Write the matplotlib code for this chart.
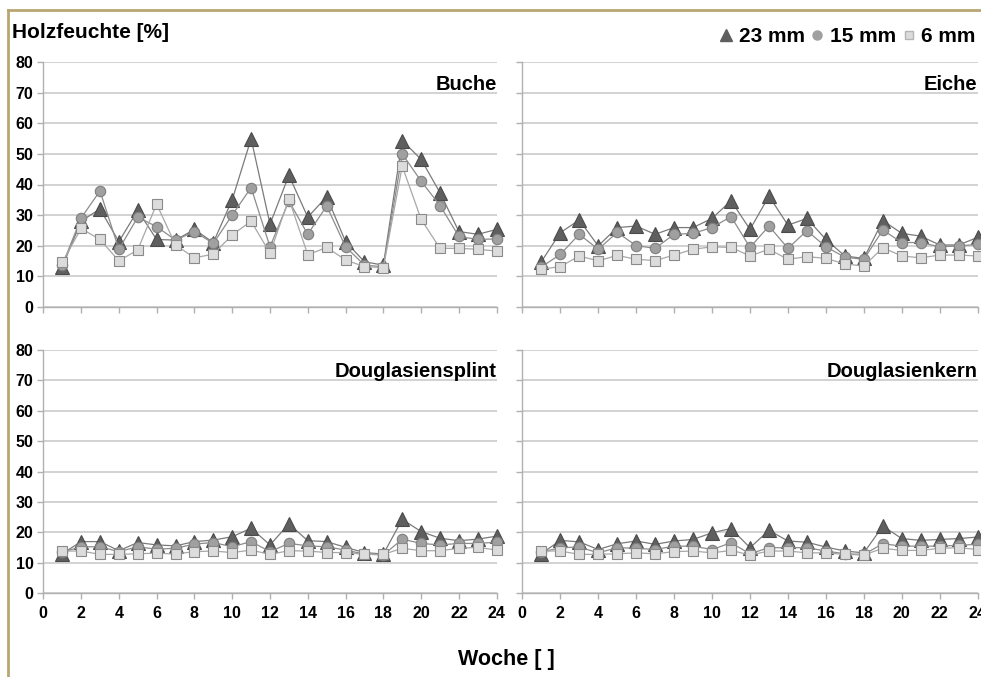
import matplotlib.pyplot as plt
from matplotlib.lines import Line2D

plt.rcParams['font.family'] = ['Liberation Sans', 'DejaVu Sans']
plt.rcParams['font.weight'] = 'bold'

# Wochen
woche = [1, 2, 3, 4, 5, 6, 7, 8, 9, 10, 11, 12,
         13, 14, 15, 16, 17, 18, 19, 20, 21, 22, 23, 24]

# Buche
buche_23 = [13.0, 28.0, 32.0, 21.3, 31.5, 22.0, 21.8, 25.3, 21.0, 35.0, 55.0, 27.0,
            43.0, 29.3, 36.0, 21.3, 14.7, 13.6, 54.4, 48.2, 37.3, 24.6, 23.7, 25.3]
buche_15 = [13.5, 29.0, 37.9, 18.8, 29.3, 26.2, 21.8, 24.6, 20.7, 30.0, 39.0, 19.6,
            34.6, 23.7, 33.0, 19.6, 13.6, 13.1, 50.0, 41.1, 33.1, 23.0, 22.0, 22.2]
buche_6 = [14.5, 25.6, 22.0, 15.0, 18.6, 33.6, 20.2, 16.0, 17.2, 23.5, 28.0, 17.5,
           35.3, 17.0, 19.4, 15.3, 13.1, 12.8, 46.0, 28.6, 19.1, 19.1, 18.8, 18.2]

# Eiche
eiche_23 = [14.7, 24.2, 28.4, 19.9, 25.9, 26.4, 23.7, 25.9, 25.9, 28.9, 34.7, 25.3,
            36.2, 26.7, 28.9, 22.0, 16.6, 15.8, 28.2, 24.0, 23.1, 20.2, 20.2, 22.7]
eiche_15 = [13.0, 17.1, 23.7, 18.8, 24.3, 20.0, 19.1, 23.7, 24.0, 25.9, 29.5, 19.4,
            26.4, 19.1, 24.9, 19.6, 16.2, 15.5, 25.1, 21.0, 21.0, 19.6, 19.9, 20.4]
eiche_6 = [12.3, 13.1, 16.6, 15.0, 16.8, 15.5, 15.1, 16.9, 18.8, 19.6, 19.4, 16.6,
           18.8, 15.5, 16.4, 15.8, 14.0, 13.3, 19.3, 16.6, 16.0, 16.9, 16.9, 16.6]

# Douglasiensplint
splint_23 = [13.0, 17.0, 17.0, 14.0, 16.7, 15.9, 15.6, 17.0, 17.5, 18.6, 21.4, 15.9,
             22.8, 17.3, 17.0, 15.1, 13.4, 12.9, 24.3, 20.3, 18.1, 17.3, 17.8, 18.8]
splint_15 = [13.5, 15.3, 15.3, 13.7, 15.3, 14.5, 14.8, 16.2, 16.7, 15.3, 17.0, 13.7,
             16.4, 15.6, 15.3, 14.2, 12.9, 12.6, 17.8, 16.4, 15.9, 16.4, 16.4, 16.8]
splint_6 = [13.9, 13.9, 12.8, 12.8, 13.0, 13.2, 12.9, 13.7, 13.9, 13.4, 14.2, 12.8,
            14.0, 13.9, 13.4, 13.4, 12.8, 12.8, 14.8, 14.0, 14.0, 14.8, 15.1, 14.2]

# Douglasienkern
kern_23 = [13.0, 17.4, 16.9, 14.4, 16.3, 17.2, 16.1, 17.2, 17.7, 19.9, 21.3, 15.0,
           20.7, 17.2, 16.8, 15.2, 13.9, 13.3, 22.1, 18.0, 17.4, 17.7, 18.0, 18.5]
kern_15 = [13.5, 15.0, 15.2, 13.3, 15.0, 14.8, 14.4, 15.5, 15.5, 14.4, 16.6, 13.0,
           15.0, 15.0, 15.0, 13.9, 13.0, 12.8, 16.3, 15.5, 15.5, 15.5, 15.8, 16.1]
kern_6 = [13.9, 13.9, 12.8, 12.8, 13.0, 13.3, 13.0, 13.7, 13.9, 13.3, 14.1, 12.6,
          13.9, 13.9, 13.3, 13.3, 12.8, 12.6, 14.8, 14.1, 14.1, 14.8, 15.0, 14.4]

panel_titles = ['Buche', 'Eiche', 'Douglasiensplint', 'Douglasienkern']
serien_namen = ['23 mm', '15 mm', '6 mm']

# Stil der drei Serien: Dreieck, Kreis, Quadrat
marker_style = [
    dict(marker='^', ms=9.5, mfc='#5f5f5f', mec='#4a4a4a', color='#7a7a7a'),
    dict(marker='o', ms=7.5, mfc='#a0a0a0', mec='#7f7f7f', color='#8c8c8c'),
    dict(marker='s', ms=7.0, mfc='#dcdcdc', mec='#8a8a8a', color='#a8a8a8'),
]

daten = [
    [buche_23, buche_15, buche_6],
    [eiche_23, eiche_15, eiche_6],
    [splint_23, splint_15, splint_6],
    [kern_23, kern_15, kern_6],
]

fig = plt.figure(figsize=(9.81, 6.77), dpi=100)
fig.set_facecolor('white')

# Positionen der vier Felder (in Pixel gemessen)
W, H = 981.0, 677.0
boxen = [
    (43.3, 62.3, 496.7, 306.7),
    (522.3, 62.3, 977.7, 306.7),
    (43.3, 350.0, 496.7, 593.3),
    (522.3, 350.0, 977.7, 593.3),
]

for i, (x0, y0, x1, y1) in enumerate(boxen):
    ax = fig.add_axes([x0 / W, 1 - y1 / H, (x1 - x0) / W, (y1 - y0) / H])
    for werte, stil in zip(daten[i], marker_style):
        ax.plot(woche, werte, lw=0.9, markeredgewidth=0.8, clip_on=False, **stil)

    ax.set_xlim(0, 24)
    ax.set_ylim(0, 80)
    ax.set_xticks(range(0, 25, 2))
    ax.set_yticks(range(0, 81, 10))
    ax.yaxis.grid(True, color='#cfcfcf', lw=1.3)
    ax.set_axisbelow(True)
    for s in ['top', 'right']:
        ax.spines[s].set_visible(False)
    for s in ['left', 'bottom']:
        ax.spines[s].set_color('#b0b0b0')
        ax.spines[s].set_linewidth(1.0)
    ax.tick_params(axis='both', direction='out', length=4, color='#b0b0b0',
                   width=1.0, labelsize=11.5, pad=3)
    if i < 2:
        ax.tick_params(axis='x', labelbottom=False)
    else:
        ax.tick_params(axis='x', pad=5)
    if i % 2 == 1:
        ax.tick_params(axis='y', labelleft=False)
    for lab in ax.get_xticklabels() + ax.get_yticklabels():
        lab.set_fontweight('bold')

    ax.text(1.0, 0.91, panel_titles[i], transform=ax.transAxes, ha='right',
            va='center', fontsize=14.5, fontweight='bold')

fig.text(12 / W, 1 - 33 / H, 'Holzfeuchte [%]', ha='left', va='center',
         fontsize=15, fontweight='bold')
fig.text(506 / W, 1 - 660 / H, 'Woche [ ]', ha='center', va='center',
         fontsize=15.5, fontweight='bold')

# Legende
handles = [
    Line2D([], [], ls='none', marker='^', ms=8, mfc='#5f5f5f', mec='#5f5f5f'),
    Line2D([], [], ls='none', marker='o', ms=6.5, mfc='#a0a0a0', mec='#a0a0a0'),
    Line2D([], [], ls='none', marker='s', ms=6, mfc='#dcdcdc', mec='#b5b5b5'),
]
fig.legend(handles, serien_namen, loc='center right', bbox_to_anchor=(1.005, 1 - 37 / H),
           ncol=3, frameon=False, prop=dict(size=15, weight='bold'),
           handlelength=0.6, handletextpad=0.3, columnspacing=0.3, borderpad=0)

# Rahmen oben und links
fig.add_artist(Line2D([8 / W, 1.0], [1 - 10 / H, 1 - 10 / H], color='#b8a672', lw=2))
fig.add_artist(Line2D([8 / W, 8 / W], [0, 1 - 10 / H], color='#b8a672', lw=2))

fig.savefig('out.png', dpi=100)
